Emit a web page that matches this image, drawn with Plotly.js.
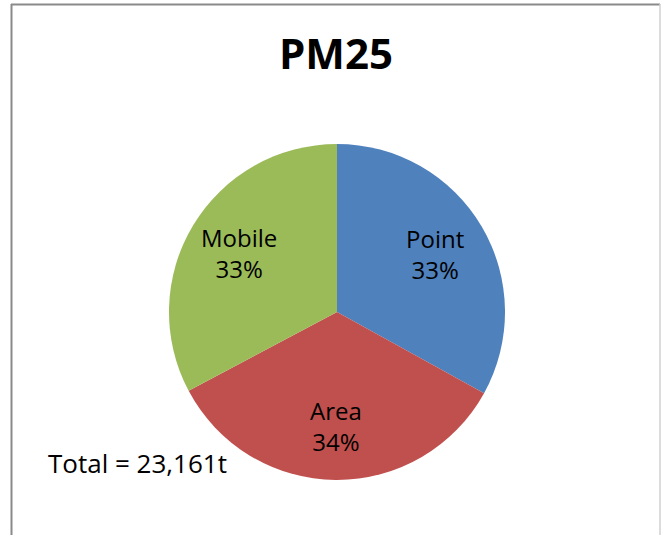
<!DOCTYPE html>
<html>
<head>
<meta charset="utf-8">
<script src="https://cdn.plot.ly/plotly-3.0.1.min.js"></script>
<style>
html,body{margin:0;padding:0;background:#fff;}
#chart{width:661px;height:535px;}
</style>
</head>
<body>
<div id="chart"></div>
<script>
// Data
var categories = ["Point", "Area", "Mobile"];
var values = [7650, 7920, 7591];
var colors = ["#4F81BD", "#C0504D", "#9BBB59"];
var titleText = "PM25";
var totalText = "Total = 23,161t";

var W = 661, H = 535;
var FONT = "Open Sans, Liberation Sans, sans-serif";
// pie geometry (pixels)
var cx = 337, cy = 312, R = 168;

var trace = {
  type: "pie",
  labels: categories,
  values: values,
  sort: false,
  direction: "clockwise",
  rotation: 0,
  marker: {colors: colors, line: {width: 0}},
  textinfo: "none",
  hoverinfo: "label+value+percent",
  domain: {x: [(cx - R) / W, (cx + R) / W], y: [(H - cy - R) / H, (H - cy + R) / H]},
  showlegend: false
};

// data labels placed at each slice's mid-angle, computed from the values
var total = values.reduce(function (a, b) { return a + b; }, 0);
var annotations = [];
var cum = 0;
var labelR = 0.68 * R;
for (var i = 0; i < values.length; i++) {
  var frac = values[i] / total;
  var mid = (cum + frac / 2) * 2 * Math.PI;
  cum += frac;
  var px = cx + Math.sin(mid) * labelR;
  var py = cy - Math.cos(mid) * labelR;
  annotations.push({
    text: categories[i] + "<br>" + Math.round(frac * 100) + "%",
    xref: "paper", yref: "paper",
    x: px / W, y: 1 - py / H,
    xanchor: "center", yanchor: "middle",
    showarrow: false,
    font: {family: FONT, size: 24, color: "#000"}
  });
}
annotations.push({
  text: totalText,
  xref: "paper", yref: "paper",
  x: 46 / W, y: 1 - 463 / H,
  xanchor: "left", yanchor: "middle",
  showarrow: false,
  font: {family: FONT, size: 26, color: "#000"}
});

var layout = {
  width: W,
  height: H,
  margin: {l: 0, r: 0, t: 0, b: 0},
  paper_bgcolor: "#ffffff",
  title: {
    text: "<b>" + titleText + "</b>",
    font: {family: FONT, size: 42, color: "#000"},
    x: 336 / W, xanchor: "center",
    y: 1 - 54 / H, yanchor: "middle",
    xref: "paper", yref: "paper"
  },
  annotations: annotations,
  shapes: [
    {type: "line", xref: "paper", yref: "paper", x0: 11.5 / W, x1: 11.5 / W, y0: 0, y1: 1 - 4 / H, line: {color: "#8a8a8a", width: 2}},
    {type: "line", xref: "paper", yref: "paper", x0: 11 / W, x1: 660 / W, y0: 1 - 4.5 / H, y1: 1 - 4.5 / H, line: {color: "#8a8a8a", width: 2}},
    {type: "line", xref: "paper", yref: "paper", x0: 660 / W, x1: 660 / W, y0: 0, y1: 1 - 4 / H, line: {color: "#d0d0d0", width: 1.5}}
  ]
};

Plotly.newPlot("chart", [trace], layout, {displayModeBar: false, staticPlot: true});
</script>
</body>
</html>
